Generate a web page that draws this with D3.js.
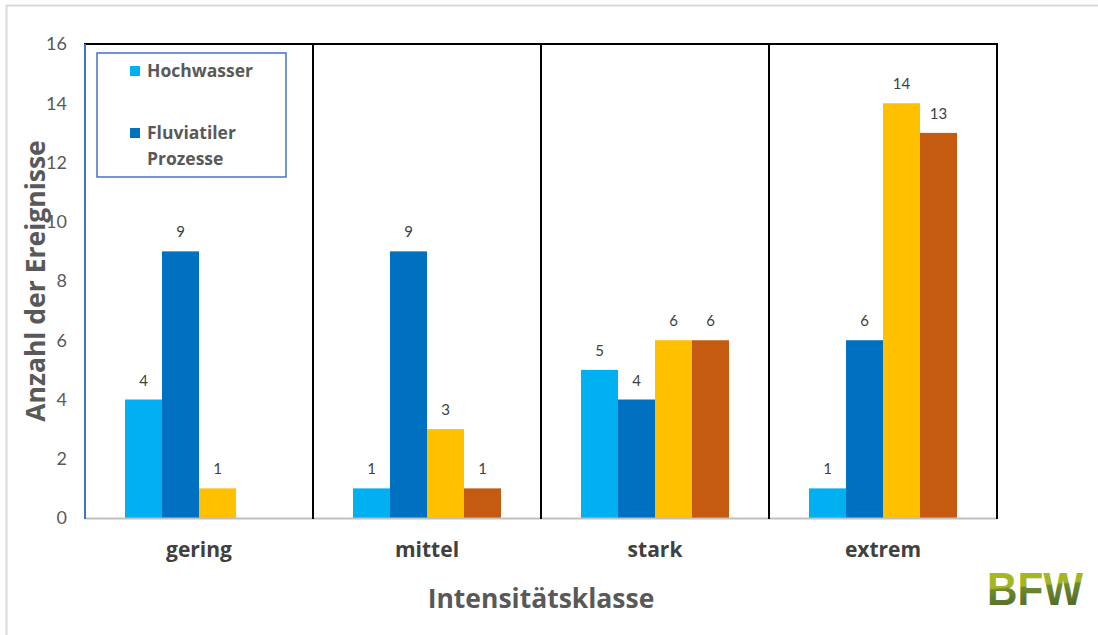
<!DOCTYPE html>
<html><head><meta charset="utf-8">
<script src="https://cdn.jsdelivr.net/npm/d3@7"></script>
<style>body{margin:0;background:#fff}svg{display:block}</style>
</head><body>
<svg id="c" width="1098" height="635"></svg>
<script>
const categories = ["gering", "mittel", "stark", "extrem"];
const seriesNames = ["Hochwasser", "Fluviatiler Prozesse", "Serie 3", "Serie 4"];
const hochwasser = [4, 1, 5, 1];
const fluviatil = [9, 9, 4, 6];
const serie3 = [1, 3, 6, 14];
const serie4 = [null, 1, 6, 13];
const yTicks = [0, 2, 4, 6, 8, 10, 12, 14, 16];
const colors = ["#00B0F0", "#0070C0", "#FFC000", "#C55A11"];
const legendSeries = [0, 1];

const allSeries = [hochwasser, fluviatil, serie3, serie4];
const svg = d3.select("#c");
const font = "'Open Sans', 'Noto Sans', sans-serif";
const numFont = "Lato, 'Open Sans', sans-serif";

// outer border
svg.append("path").attr("d","M6.5,640 V5.5 H1100").attr("fill","none").attr("stroke","#D9D9D9").attr("stroke-width",2);

const m = {l:85, r:997, t:44, b:518};
const x = d3.scaleBand().domain(categories).range([m.l, m.r]);
const inner = d3.scaleBand().domain(d3.range(4)).range([0, x.bandwidth()]).paddingOuter(40/37).paddingInner(0);
const y = d3.scaleLinear().domain([0,16]).range([m.b, m.t]);

// bars
categories.forEach((c, ci) => {
  allSeries.forEach((s, si) => {
    const v = s[ci];
    if (v == null) return;
    svg.append("rect")
      .attr("x", x(c) + inner(si)).attr("width", inner.bandwidth())
      .attr("y", y(v)).attr("height", y(0) - y(v))
      .attr("fill", colors[si]);
    svg.append("text")
      .attr("x", x(c) + inner(si) + inner.bandwidth()/2)
      .attr("y", y(v) - 14)
      .attr("text-anchor","middle")
      .attr("font-family", numFont).attr("font-size", 15).attr("fill","#404040")
      .text(v);
  });
});

// frame lines
svg.append("line").attr("x1",m.l).attr("x2",m.r).attr("y1",m.b+0.5).attr("y2",m.b+0.5).attr("stroke","#BFBFBF").attr("stroke-width",2);
svg.append("line").attr("x1",m.l-1).attr("x2",m.r+1).attr("y1",m.t).attr("y2",m.t).attr("stroke","#000").attr("stroke-width",2);
categories.forEach(c => {
  const xe = x(c) + x.bandwidth();
  svg.append("line").attr("x1",xe).attr("x2",xe).attr("y1",m.t).attr("y2",m.b+1).attr("stroke","#000").attr("stroke-width",2);
});
svg.append("line").attr("x1",m.l).attr("x2",m.l).attr("y1",m.t).attr("y2",m.b+1).attr("stroke","#4472C4").attr("stroke-width",2);

// y axis labels
const yAxis = d3.axisLeft(y).tickValues(yTicks).tickSize(0).tickPadding(18);
const gy = svg.append("g").attr("transform",`translate(${m.l},0)`).call(yAxis);
gy.select(".domain").remove();
gy.selectAll("text").attr("font-family",numFont).attr("font-size",18).attr("fill","#595959");

// x axis labels
const xAxis = d3.axisBottom(x).tickSize(0).tickPadding(24);
const gx = svg.append("g").attr("transform",`translate(0,${m.b})`).call(xAxis);
gx.select(".domain").remove();
gx.selectAll("text").attr("font-family",font).attr("font-size",21).attr("font-weight","bold").attr("fill","#404040");

// axis titles
svg.append("text").attr("transform","translate(45,281) rotate(-90)")
  .attr("text-anchor","middle").attr("font-family",font).attr("font-size",26.5).attr("font-weight","bold").attr("fill","#595959")
  .text("Anzahl der Ereignisse");
svg.append("text").attr("x",541).attr("y",608)
  .attr("text-anchor","middle").attr("font-family",font).attr("font-size",26.5).attr("font-weight","bold").attr("fill","#595959")
  .text("Intensitätsklasse");

// legend
svg.append("rect").attr("x",97).attr("y",53).attr("width",189).attr("height",124)
  .attr("fill","#fff").attr("stroke","#4472C4").attr("stroke-width",1.5);
const legY = [[77], [139, 165]];
legendSeries.forEach((si, i) => {
  svg.append("rect").attr("x",130).attr("y",legY[i][0]-11).attr("width",10).attr("height",10).attr("fill",colors[si]);
  const words = i === 0 ? ["Hochwasser"] : ["Fluviatiler", "Prozesse"];
  words.forEach((w, wi) => {
    svg.append("text").attr("x",147).attr("y",legY[i][wi])
      .attr("font-family",font).attr("font-size",17.5).attr("font-weight","bold").attr("fill","#595959").text(w);
  });
});

// BFW logo
const defs = svg.append("defs");
const lg = defs.append("linearGradient").attr("id","bfw").attr("x1",0).attr("y1",0).attr("x2",0.15).attr("y2",1);
lg.append("stop").attr("offset","0%").attr("stop-color","#A9BA1E");
lg.append("stop").attr("offset","48%").attr("stop-color","#A4B424");
lg.append("stop").attr("offset","52%").attr("stop-color","#6E8A2E");
lg.append("stop").attr("offset","100%").attr("stop-color","#4C6428");
svg.append("text").attr("x",987).attr("y",605).attr("textLength",96).attr("lengthAdjust","spacingAndGlyphs")
  .attr("font-family","'Liberation Sans', Arial, sans-serif").attr("font-weight","bold").attr("font-size",46)
  .attr("fill","url(#bfw)").text("BFW");
</script>
</body></html>
